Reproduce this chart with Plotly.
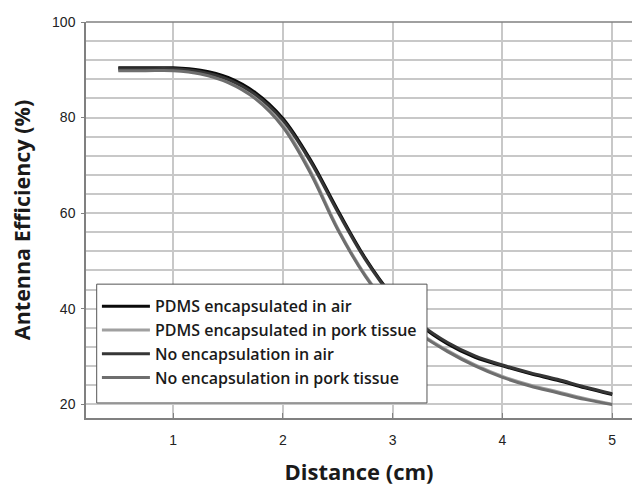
import plotly.graph_objects as go

distance = [0.5, 0.75, 1.0, 1.25, 1.5, 1.75, 2.0, 2.25, 2.5, 2.75, 3.0,
            3.25, 3.5, 3.75, 4.0, 4.25, 4.5, 4.75, 5.0]

pdms_air = [90.4, 90.4, 90.4, 89.9, 88.4, 85.2, 79.8, 71.2, 60.6, 50.6, 42.6,
            36.6, 32.6, 29.8, 28.0, 26.4, 25.0, 23.4, 22.0]
pdms_pork = [90.0, 90.0, 90.0, 89.3, 87.6, 84.2, 78.4, 68.8, 56.8, 47.0, 39.6,
             34.8, 31.2, 28.2, 25.8, 24.0, 22.6, 21.2, 20.0]
no_enc_air = [90.2, 90.2, 90.2, 89.6, 88.0, 84.8, 79.4, 70.8, 60.2, 50.3, 42.4,
              36.8, 32.9, 30.1, 28.2, 26.6, 25.2, 23.6, 22.2]
no_enc_pork = [89.8, 89.8, 89.8, 89.1, 87.3, 83.9, 78.0, 68.4, 56.5, 46.8, 39.4,
               34.6, 31.0, 28.0, 25.6, 23.8, 22.4, 21.0, 19.9]

names = ["PDMS encapsulated in air", "PDMS encapsulated in pork tissue",
         "No encapsulation in air", "No encapsulation in pork tissue"]
series = [pdms_air, pdms_pork, no_enc_air, no_enc_pork]
colors = ["#0a0a0a", "#a0a0a0", "#363636", "#6e6e6e"]

x_ticks = [1, 2, 3, 4, 5]
y_grid = list(range(20, 101, 4))
y_labels = [str(v) if v % 20 == 0 else "" for v in y_grid]
y_major = [20, 40, 60, 80, 100]

GRID = "#c8c8c8"

fig = go.Figure()
for name, ys, col in zip(names, series, colors):
    fig.add_trace(go.Scatter(x=distance, y=ys, mode="lines", name=name,
                             line=dict(color=col, width=3, shape="spline")))

# invisible helper trace so the overlay axis (tick marks at labelled values) is drawn
fig.add_trace(go.Scatter(x=[None], y=[None], yaxis="y2", showlegend=False,
                         hoverinfo="skip", mode="lines"))

fig.update_layout(
    width=632, height=486,
    margin=dict(l=86, r=0, t=22, b=68),
    plot_bgcolor="white", paper_bgcolor="white",
    showlegend=True,
    legend=dict(x=0.02, y=0.325, xanchor="left", yanchor="top",
                bgcolor="rgba(0,0,0,0)", borderwidth=0,
                font=dict(family="Open Sans", size=16, color="#1a1a1a", weight=600),
                itemwidth=48, tracegroupgap=0),
    xaxis=dict(range=[0.206, 5.18], tickvals=x_ticks,
               showgrid=True, gridcolor=GRID, gridwidth=1.5,
               showline=True, linecolor="#808080", linewidth=1.5,
               ticks="inside", ticklen=5, tickcolor="#808080",
               ticklabelstandoff=8,
               tickfont=dict(family="Liberation Sans", size=14, color="#222222"),
               title=dict(text="Distance (cm)", standoff=20,
                          font=dict(family="Open Sans", size=22, color="#1a1a1a", weight=700)),
               zeroline=False, automargin=False),
    yaxis=dict(range=[17.1, 100], tickvals=y_grid, ticktext=y_labels,
               showgrid=True, gridcolor=GRID, gridwidth=1.5,
               showline=True, linecolor="#808080", linewidth=1.5,
               ticks="", ticklabelstandoff=6,
               tickfont=dict(family="Liberation Sans", size=14, color="#222222"),
               title=dict(text="Antenna Efficiency (%)", standoff=16,
                          font=dict(family="Open Sans", size=21.5, color="#1a1a1a", weight=700)),
               zeroline=False, automargin=False),
    yaxis2=dict(range=[17.1, 100], overlaying="y", side="left",
                tickvals=y_major, showticklabels=False, showgrid=False,
                ticks="outside", ticklen=4, tickcolor="#808080",
                showline=False, zeroline=False),
)

# top frame line
fig.add_shape(type="line", xref="paper", yref="paper", x0=0, x1=1, y0=1, y1=1,
              line=dict(color="#808080", width=1.5))
# legend box (drawn above the curves, legend text sits on it)
fig.add_shape(type="rect", xref="paper", yref="paper", layer="above",
              x0=0.0196, x1=0.6245, y0=0.038, y1=0.338,
              fillcolor="white", line=dict(color="#555555", width=1))

fig.write_html("out.html")
